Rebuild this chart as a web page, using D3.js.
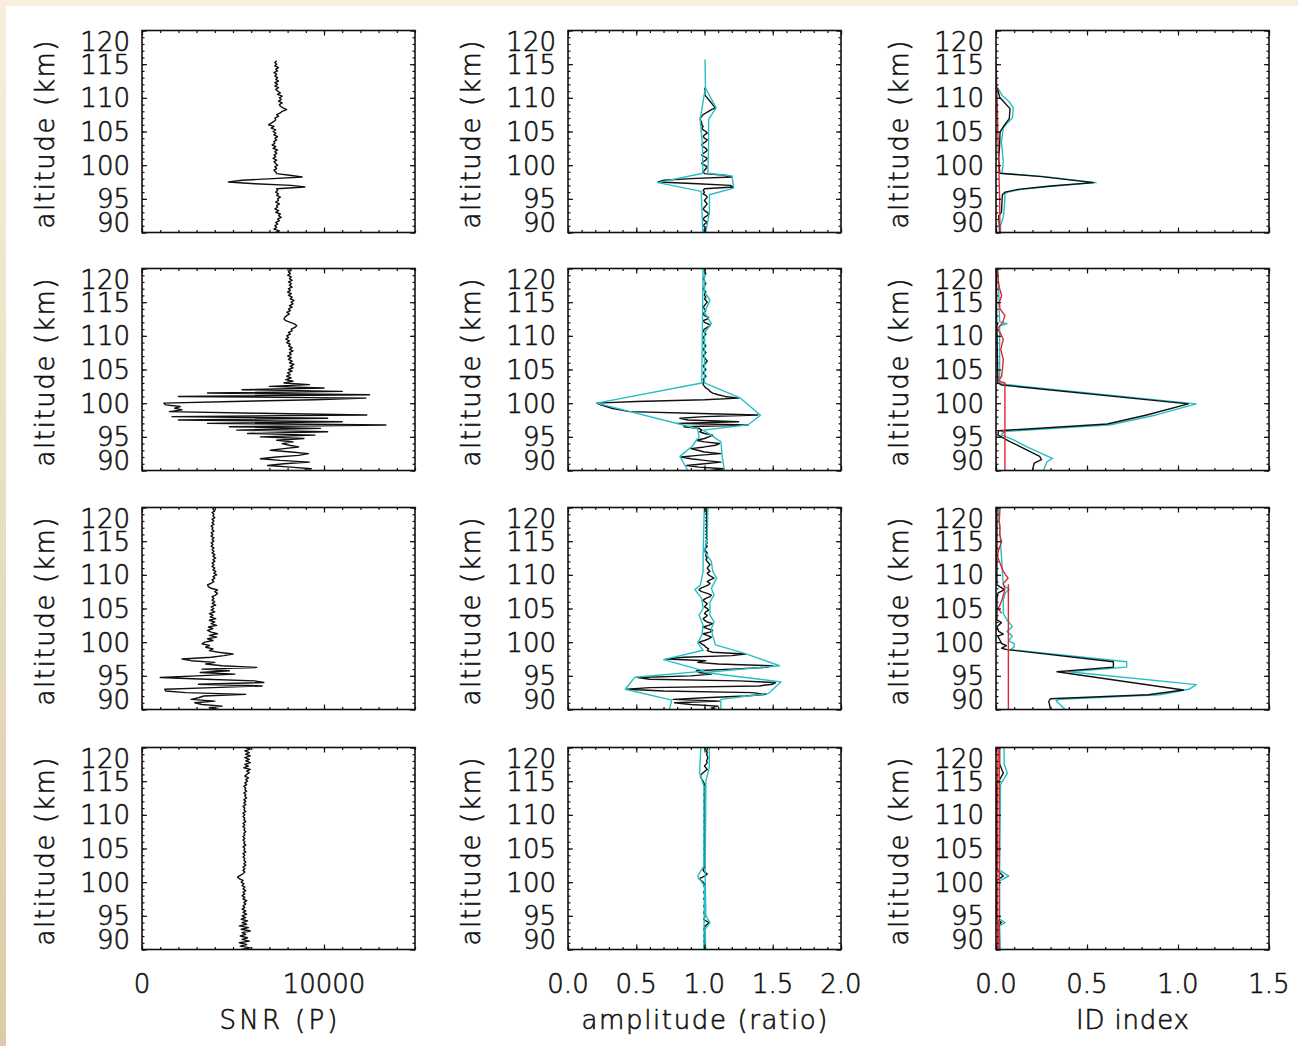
<!DOCTYPE html>
<html>
<head>
<meta charset="utf-8">
<script src="https://cdn.jsdelivr.net/npm/d3@7"></script>
<style>
	html, body { margin: 0; padding: 0; background: #ffffff; }
	svg text { font-family: "DejaVu Sans", sans-serif; font-weight: 300; fill: #111111; stroke: #111111; stroke-width: 0.6px; }
</style>
</head>
<body>
<div id="chart"></div>
<script>
// ---- axes / labels ----
const altTicks = [90, 95, 100, 105, 110, 115, 120];
const snrTicks = [0, 10000];
const snrTickLabels = ["0", "10000"];
const ampTicks = [0, 0.5, 1, 1.5, 2];
const ampTickLabels = ["0.0", "0.5", "1.0", "1.5", "2.0"];
const idTicks = [0, 0.5, 1, 1.5];
const idTickLabels = ["0.0", "0.5", "1.0", "1.5"];
const colTitles = ["SNR  (P)", "amplitude  (ratio)", "ID  index"];
const yTitle = "altitude  (km)";

// fine profiles: one value every 0.25 km, starting at 89 km
const fineStep = 0.25;
const fineStart = 89;

// ---- row 1 ----
const snr1 = [
	7350,7500,7300,7450,7350,7550,7250,7400,
	7300,7450,7350,7550,7450,7650,7500,7600,
	7350,7500,7300,7450,7400,7550,7350,7500,
	7450,7600,7400,7500,7350,7450,7400,8950,
	8200,6200,4750,5500,7200,8800,8100,7400,
	7350,7250,7400,7300,7450,7350,7250,7400,
	7200,7350,7250,7400,7300,7450,7200,7350,
	7150,7300,7250,7400,7300,7450,7250,7350,
	7200,7350,7100,7250,6950,7100,7250,7350,
	7300,7500,7400,7600,7700,7950,7750,7600,
	7550,7700,7500,7650,7550,7700,7450,7600,
	7450,7350,7500,7300,7450,7300,7500,7350,
	7450,7300,7400,7250,7450,7350,7500,7300,
	7400,7300,7400];
const amp1 = [
	1.0,1.01,0.99,1.0,1.01,0.995,1.0,1.01,
	0.99,1.0,1.02,1.0,0.99,1.0,1.02,1.03,
	1.02,1.0,0.99,1.0,1.01,1.02,1.01,1.0,
	1.01,1.02,1.01,0.99,1.0,0.99,1.0,1.21,
	1.19,0.95,0.66,0.7,0.9,1.2,1.15,1.0,
	0.99,1.0,1.01,1.02,1.0,0.98,0.99,1.01,
	1.02,1.0,0.98,0.99,1.01,1.02,1.01,0.99,
	0.98,0.99,1.01,1.02,1.0,0.99,1.0,1.02,
	1.01,0.99,0.98,0.99,0.98,0.98,0.975,0.97,
	0.97,0.98,0.99,1.01,1.03,1.05,1.08,1.07,
	1.06,1.05,1.04,1.03,1.02,1.01,1.0,1.005,
	1.0,1.005,1.0];
const ampHi1Alt = [89, 93, 95.6, 96.6, 98.4, 98.8, 103, 106.8, 108.5, 111.5, 115.7];
const ampHi1 =    [1.0, 1.036, 1.036, 1.214, 1.202, 1.024, 1.03, 1.03, 1.085, 1.007, 1.004];
const ampLo1Alt = [89, 96.1, 97.4, 98.8, 103, 106.8, 111.5];
const ampLo1 =    [0.99, 0.976, 0.659, 0.988, 0.985, 0.968, 1.007];
const id1Alt = [89, 90, 92.5, 93, 95.6, 96.0, 96.4, 96.9, 97.4, 98.3, 98.8, 99.0, 101, 103, 104.9, 105.7, 106.9, 108.4, 109.5, 110.1, 111.5];
const id1 =    [0.02, 0.02, 0.015, 0.03, 0.035, 0.05, 0.12, 0.3, 0.535, 0.25, 0.02, 0.02, 0.015, 0.02, 0.022, 0.04, 0.073, 0.077, 0.04, 0.02, 0.007];
const idC1Alt = [89, 91, 92.3, 93.5, 95.5, 95.7, 96.0, 96.4, 96.9, 97.4, 98.3, 98.8, 99.2, 100.5, 102, 103.5, 104.5, 105.5, 106.2, 107, 108.5, 109.5, 110.3, 111.5];
const idC1 =    [0.025, 0.025, 0.04, 0.045, 0.05, 0.045, 0.065, 0.14, 0.32, 0.55, 0.27, 0.03, 0.035, 0.04, 0.035, 0.03, 0.035, 0.04, 0.06, 0.09, 0.095, 0.07, 0.035, 0.01];
const idR1Alt = [89, 95, 100, 105, 110, 115.5];
const idR1 =    [0.022, 0.02, 0.015, 0.01, 0.006, 0.0];

// ---- row 2 ----
const snr2 = [
	8200,9000,8600,7600,8900,9300,8200,6900,
	7800,9200,7600,6500,7400,8600,9150,8200,
	7050,7800,8600,8100,7700,8300,7400,8900,
	6500,9500,5800,10200,5200,9800,4800,13400,
	3600,11000,2000,10200,1650,12350,6500,1500,
	2200,1800,2100,1300,1200,5000,9500,12300,
	2000,12500,3600,11000,5500,10000,7000,9200,
	7800,8300,7900,8200,7950,8150,8000,8250,
	8050,8300,8150,8350,8100,8250,8050,8200,
	8000,8200,8100,8300,8100,8250,8050,8150,
	7950,8100,7900,8050,7950,8150,8050,8250,
	8200,8400,8500,8400,8150,7900,7800,7850,
	7950,8100,7950,8150,8050,8250,8100,8300,
	8200,8350,8150,8250,8050,8200,8000,8150,
	8050,8250,8100,8200,8050,8250,8100,8200,
	8000,8150,8050,8200,8100,8250,8050,8150,
	8100];
const amp2 = [
	1.0,0.9,1.13,0.95,1.05,1.14,0.96,0.87,
	1.0,1.12,1.0,0.9,0.83,0.95,1.12,1.0,
	0.95,0.9,1.0,1.08,1.11,1.0,0.94,1.0,
	1.03,1.06,1.0,0.965,0.98,0.96,0.85,1.32,
	0.8,1.25,0.88,0.82,1.0,1.39,0.9,0.45,
	0.38,0.32,0.28,0.24,0.21,0.5,1.0,1.25,
	1.15,1.1,1.06,1.04,1.03,1.01,1.0,0.99,
	0.99,1.0,0.99,1.0,1.01,1.0,0.99,1.0,
	1.01,1.0,0.99,1.0,1.01,1.02,1.01,1.0,
	0.99,1.0,1.01,1.0,0.99,1.0,1.01,1.0,
	0.99,1.0,1.0,0.99,1.0,1.01,1.0,0.99,
	1.0,1.02,1.04,1.03,1.0,0.99,1.02,1.03,
	1.0,0.99,1.0,1.01,1.0,0.99,1.0,1.01,
	1.02,1.01,1.0,1.01,1.0,1.0,1.01,1.0,
	0.99,1.0,1.0,1.01,1.0,1.0,0.99,1.0,
	1.0,1.01,1.0,1.0,1.0,1.0,1.01,1.0,
	1.0];
const ampHi2Alt = [89, 90, 92, 94.3, 96.0, 96.8, 98.2, 100.8, 103, 110.5, 111.8, 113.5, 115.3, 116.5, 121];
const ampHi2 =    [1.15, 1.146, 1.13, 1.12, 0.99, 1.32, 1.41, 1.26, 1.0, 1.0, 1.05, 1.0, 1.04, 1.0, 1.0];
const ampLo2Alt = [89, 90, 92.1, 93.6, 95, 96.2, 100.0, 103, 121];
const ampLo2 =    [0.87, 0.878, 0.82, 0.91, 0.96, 0.95, 0.21, 0.98, 0.99];
const id2Alt = [89, 90, 91.1, 91.6, 92.1, 93.6, 94.3, 95.3, 95.9, 96.9, 98.25, 99.9, 102.7, 103, 111.5, 111.8, 112, 121];
const id2 =    [0.19, 0.2, 0.21, 0.25, 0.24, 0.13, 0.076, 0.01, 0.014, 0.612, 0.828, 1.057, 0.03, 0.01, 0.005, 0.01, 0.003, 0.003];
const idC2Alt = [89, 90, 91.3, 91.8, 93.5, 94.5, 95.3, 95.8, 96.8, 98.25, 99.9, 102.8, 103, 111.5, 111.8, 112.1, 121];
const idC2 =    [0.27, 0.26, 0.28, 0.31, 0.17, 0.1, 0.03, 0.05, 0.63, 0.88, 1.10, 0.04, 0.02, 0.02, 0.06, 0.02, 0.01];
const idR2Alt = [89, 95.7, 95.8, 95.9, 103, 103.3, 104, 105.5, 106.5, 108, 109.5, 110.5, 111, 112, 113, 114, 115, 116, 117, 118, 119, 120, 121];
const idR2 =    [0.049, 0.049, 0.03, 0.049, 0.049, 0.013, 0.031, 0.037, 0.04, 0.026, 0.04, 0.022, 0.007, 0.037, 0.049, 0.022, 0.018, 0.031, 0.02, 0.013, 0.01, 0.007, 0.005];

// ---- row 3 ----
const snr3 = [
	4100,3800,4300,3900,4200,3700,4400,3300,
	2900,4000,2700,3100,3400,5700,2400,1300,
	1250,3900,6600,3100,6700,6200,3500,1000,
	3000,5100,3200,4800,3300,6300,4400,3500,
	4000,2700,2200,3800,4500,5000,4200,3700,
	3900,3500,3700,3300,3450,3900,3600,4100,
	3700,4150,3800,3600,3900,3650,4100,3800,
	4000,3700,4050,3750,3900,3700,4000,3800,
	3950,3800,4050,3850,4000,3850,3950,3850,
	4050,4150,4000,4150,3800,3650,3600,3800,
	3950,3850,4000,3900,4100,3950,4050,3900,
	4000,3850,3950,3850,4000,3900,4050,3900,
	4000,3850,3950,3850,3950,3800,3900,3800,
	3950,3850,3950,3800,3900,3800,3950,3850,
	3900,3800,3950,3850,3950,3850,4000,3900,
	3950,3850,4000,3900,3950,3850,4000,3900,
	3950];
const amp3 = [
	1.08,1.05,1.1,1.02,1.08,1.05,1.1,0.9,
	0.78,1.11,0.77,1.0,1.3,1.45,1.35,0.7,
	0.43,0.6,1.4,1.5,1.52,1.25,0.6,0.51,
	0.9,1.05,0.96,0.94,1.2,1.45,1.5,1.1,
	0.95,1.01,0.72,0.85,1.2,1.3,1.06,1.02,
	1.03,1.01,1.0,0.98,0.96,1.0,1.03,1.05,
	1.02,0.99,1.04,1.06,1.02,0.99,1.03,1.06,
	1.02,1.0,0.99,1.01,1.02,1.0,1.01,1.03,
	1.02,1.0,1.01,1.02,1.0,0.99,1.01,1.04,
	1.05,1.02,0.98,0.96,0.97,1.0,1.03,1.04,
	1.02,1.04,1.07,1.05,1.03,1.02,1.04,1.03,
	1.02,1.03,1.04,1.03,1.02,1.01,1.02,1.01,
	1.01,1.02,1.01,1.0,1.01,1.02,1.01,1.02,
	1.01,1.02,1.01,1.02,1.01,1.02,1.01,1.02,
	1.01,1.02,1.01,1.02,1.01,1.02,1.01,1.02,
	1.01,1.02,1.01,1.02,1.01,1.02,1.01,1.02,
	1.01];
const ampHi3Alt = [89, 91.5, 92.4, 94.1, 95.5, 96.5, 98.3, 99.6, 101, 102, 103, 104, 106, 107, 108, 109.5, 110.5, 112, 113.5, 115.5, 121];
const ampHi3 =    [1.12, 1.12, 1.47, 1.56, 1.0, 1.55, 1.3, 1.08, 1.06, 1.05, 1.07, 1.04, 1.04, 1.07, 1.05, 1.09, 1.06, 1.05, 1.0, 1.02, 1.025];
const ampLo3Alt = [89, 91.4, 93.0, 94.8, 95.7, 97.4, 98.8, 99.9, 101, 102.5, 104, 105, 106.5, 107.8, 108.5, 110.5, 113, 121];
const ampLo3 =    [0.73, 0.76, 0.42, 0.49, 1.0, 0.70, 0.99, 0.95, 0.98, 0.99, 0.96, 0.99, 0.98, 0.93, 0.97, 0.99, 0.99, 1.0];
const id3Alt = [89, 90.0, 91.2, 91.6, 92.2, 92.9, 95.6, 96.3, 97.1, 98.9, 99.1, 99.5, 99.8, 100.9, 101.2, 101.6, 102.3, 102.9, 103.3, 104.3, 106.3, 107.3, 107.8, 108.5, 121];
const id3 =    [0.29, 0.30, 0.29, 0.30, 0.838, 1.03, 0.335, 0.645, 0.645, 0.06, 0.031, 0.057, 0.031, 0.01, 0.04, 0.015, 0.005, 0.03, 0.005, 0.005, 0.005, 0.01, 0.046, 0.005, 0.005];
const idC3Alt = [89, 90, 91.3, 91.5, 92.2, 93.0, 93.7, 95.6, 96.3, 97.1, 98.9, 99.3, 99.8, 100.2, 100.9, 101.6, 102.3, 103.3, 104.3, 106.3, 107.3, 107.8, 108.5, 121];
const idC3 =    [0.38, 0.38, 0.33, 0.35, 0.90, 1.06, 1.10, 0.40, 0.718, 0.718, 0.08, 0.1, 0.1, 0.07, 0.09, 0.06, 0.09, 0.06, 0.04, 0.04, 0.05, 0.073, 0.04, 0.01];
// threshold (straight) and noise level (wiggly) in red
const idR3Alt = [89, 108.6];
const idR3 =    [0.068, 0.068];
const idN3Alt = [104.3, 104.5, 105, 105.5, 106.5, 107.5, 108, 108.7, 109.5, 110.5, 112, 112.9, 114, 114.9, 116, 117, 118, 119, 120, 121];
const idN3 =    [0.031, 0.025, 0.011, 0.022, 0.035, 0.046, 0.048, 0.04, 0.066, 0.04, 0.018, 0.007, 0.018, 0.031, 0.02, 0.022, 0.018, 0.02, 0.022, 0.02];

// ---- row 4 ----
const snr4 = [
	5500,5900,5350,5850,5450,5950,5400,5750,
	5350,5900,5500,5800,5400,5700,5500,5950,
	5450,5850,5350,5750,5500,5800,5450,5700,
	5500,5750,5550,5700,5500,5650,5550,5700,
	5600,5750,5550,5650,5500,5650,5550,5700,
	5550,5650,5500,5600,5450,5550,5350,5250,
	5400,5550,5650,5550,5650,5550,5700,5600,
	5700,5600,5650,5550,5650,5550,5700,5600,
	5650,5550,5700,5600,5650,5550,5650,5550,
	5650,5600,5700,5600,5650,5550,5650,5550,
	5700,5600,5650,5550,5650,5550,5700,5600,
	5650,5550,5700,5600,5700,5600,5750,5650,
	5700,5600,5750,5650,5700,5600,5750,5650,
	5800,5700,5850,5650,5750,5900,5750,5950,
	5600,5850,5650,5950,5700,5900,5650,5950,
	5700,5900,5650,5950,5700,5900,5650,5900,
	5750];
const amp4 = [
	1.0,1.005,0.995,1.0,1.005,1.0,0.995,1.005,
	1.0,0.995,1.005,1.0,0.995,1.0,1.005,1.0,
	0.995,1.0,1.005,1.02,1.035,1.01,0.995,1.0,
	1.005,1.0,0.995,1.0,1.005,1.0,0.995,1.005,
	1.0,1.005,0.995,1.0,1.005,1.0,0.995,1.0,
	1.005,1.0,0.995,1.0,0.99,0.975,0.96,0.985,
	1.01,1.02,1.0,0.99,0.995,1.0,1.005,1.0,
	0.995,1.0,1.005,1.0,0.995,1.0,1.005,1.0,
	0.995,1.0,1.005,1.0,0.995,1.0,1.005,1.0,
	0.995,1.0,1.005,1.0,0.995,1.0,1.005,1.0,
	0.995,1.0,1.005,1.0,0.995,1.0,1.005,1.0,
	0.995,1.0,1.005,1.0,0.995,1.0,1.005,1.0,
	0.995,1.0,1.005,1.0,1.0,1.005,1.0,0.995,
	0.99,0.98,0.975,0.97,0.975,0.99,1.005,1.02,
	1.01,1.0,1.01,1.02,1.015,1.02,1.025,1.02,
	1.015,1.02,1.015,1.02,1.025,1.02,1.015,1.02,
	1.02];
const ampHi4Alt = [89, 93, 94, 95, 101, 114, 115, 117, 121];
const ampHi4 =    [1.01, 1.005, 1.04, 1.01, 1.005, 1.01, 1.01, 1.035, 1.036];
const ampLo4Alt = [89, 99.4, 100.9, 102.4, 114.2, 116.2, 121];
const ampLo4 =    [0.995, 1.0, 0.95, 0.995, 0.996, 0.964, 0.976];
const id4Alt = [89, 93.5, 94, 94.5, 100.3, 100.9, 101.8, 114.5, 116.2, 117.5, 121];
const id4 =    [0.01, 0.01, 0.03, 0.005, 0.005, 0.04, 0.005, 0.005, 0.04, 0.02, 0.02];
const idC4Alt = [89, 93.5, 94, 94.5, 100.2, 100.9, 101.8, 114.5, 116.2, 117.5, 121];
const idC4 =    [0.025, 0.02, 0.05, 0.02, 0.02, 0.07, 0.02, 0.025, 0.062, 0.045, 0.044];
const idR4Alt = [89, 121];
const idR4 =    [0.018, 0.018];
const idN4Alt = [89, 92, 95, 98, 100, 103, 105, 108, 110, 113, 115, 118, 121];
const idN4 =    [0.005, 0.009, 0.008, 0.004, 0.004, 0.008, 0.01, 0.006, 0.005, 0.009, 0.008, 0.011, 0.012];

// ---- layout ----
var cfg = {
	w: 1298,
	h: 1046,
	colLeft: [142, 568, 996],
	rowTop: [30.5, 268.5, 507.5, 747.5],
	boxW: 273,
	boxH: 202,
	fs: 26,
	black: "#111111",
	cyan: "#24bfc6",
	red: "#e3262b"
};

function profile(vals) {
	return vals.map(function(v, i) { return [fineStart + i * fineStep, v]; });
}
function pairs(alts, vals) {
	return alts.map(function(a, i) { return [a, vals[i]]; });
}

var columns = [
	{ domain: [0, 15000], ticks: snrTicks, labels: snrTickLabels, minor: d3.range(0, 15001, 1000), title: colTitles[0], titleLen: 118 },
	{ domain: [0, 2], ticks: ampTicks, labels: ampTickLabels, minor: d3.range(0, 21).map(function(i) { return i / 10; }), title: colTitles[1], titleLen: 246 },
	{ domain: [0, 1.5], ticks: idTicks, labels: idTickLabels, minor: d3.range(0, 16).map(function(i) { return i / 10; }), title: colTitles[2], titleLen: 113 }
];
var altMinor = d3.range(90, 121, 1);

var rows = [
	[
		[{ d: profile(snr1), c: cfg.black }],
		[{ d: profile(amp1), c: cfg.black }, { d: pairs(ampHi1Alt, ampHi1), c: cfg.cyan }, { d: pairs(ampLo1Alt, ampLo1), c: cfg.cyan }],
		[{ d: pairs(idC1Alt, idC1), c: cfg.cyan }, { d: pairs(id1Alt, id1), c: cfg.black }, { d: pairs(idR1Alt, idR1), c: cfg.red }]
	],
	[
		[{ d: profile(snr2), c: cfg.black }],
		[{ d: profile(amp2), c: cfg.black }, { d: pairs(ampHi2Alt, ampHi2), c: cfg.cyan }, { d: pairs(ampLo2Alt, ampLo2), c: cfg.cyan }],
		[{ d: pairs(idC2Alt, idC2), c: cfg.cyan }, { d: pairs(id2Alt, id2), c: cfg.black }, { d: pairs(idR2Alt, idR2), c: cfg.red }]
	],
	[
		[{ d: profile(snr3), c: cfg.black }],
		[{ d: profile(amp3), c: cfg.black }, { d: pairs(ampHi3Alt, ampHi3), c: cfg.cyan }, { d: pairs(ampLo3Alt, ampLo3), c: cfg.cyan }],
		[{ d: pairs(idC3Alt, idC3), c: cfg.cyan }, { d: pairs(id3Alt, id3), c: cfg.black }, { d: pairs(idN3Alt, idN3), c: cfg.red }, { d: pairs(idR3Alt, idR3), c: cfg.red }]
	],
	[
		[{ d: profile(snr4), c: cfg.black }],
		[{ d: profile(amp4), c: cfg.black }, { d: pairs(ampHi4Alt, ampHi4), c: cfg.cyan }, { d: pairs(ampLo4Alt, ampLo4), c: cfg.cyan }],
		[{ d: pairs(idC4Alt, idC4), c: cfg.cyan }, { d: pairs(id4Alt, id4), c: cfg.black }, { d: pairs(idN4Alt, idN4), c: cfg.red }, { d: pairs(idR4Alt, idR4), c: cfg.red }]
	]
];

var svg = d3.select("#chart")
	.append("svg")
	.attr("width", cfg.w)
	.attr("height", cfg.h);

// cream frame along the top and left edges
var defs = svg.append("defs");
var grad = defs.append("linearGradient").attr("id", "leftEdge")
	.attr("x1", 0).attr("y1", 0).attr("x2", 0).attr("y2", 1);
grad.append("stop").attr("offset", "0%").attr("stop-color", "#f8efda");
grad.append("stop").attr("offset", "100%").attr("stop-color", "#d9cca8");
svg.append("rect").attr("x", 0).attr("y", 0).attr("width", cfg.w).attr("height", 6).attr("fill", "#f8efda");
svg.append("rect").attr("x", 0).attr("y", 0).attr("width", 6).attr("height", cfg.h).attr("fill", "url(#leftEdge)");

var y = d3.scaleLinear().domain([90, 120]).range([cfg.boxH, 0]);

function tickAxis(g, axis, values, size, tx, ty) {
	g.append("g")
		.attr("transform", "translate(" + tx + "," + ty + ")")
		.call(axis.tickValues(values).tickSize(-size).tickFormat(""))
		.call(function(a) { a.select(".domain").remove(); })
		.selectAll("line")
		.attr("stroke", cfg.black)
		.attr("stroke-width", 1.2);
}

rows.forEach(function(row, r) {
	row.forEach(function(series, c) {
		var col = columns[c];
		var x = d3.scaleLinear().domain(col.domain).range([0, cfg.boxW]);
		var g = svg.append("g")
			.attr("transform", "translate(" + cfg.colLeft[c] + "," + cfg.rowTop[r] + ")");

		var clipId = "clip-" + r + "-" + c;
		defs.append("clipPath").attr("id", clipId)
			.append("rect").attr("width", cfg.boxW).attr("height", cfg.boxH);

		var line = d3.line()
			.x(function(d) { return x(d[1]); })
			.y(function(d) { return y(d[0]); });

		var plot = g.append("g").attr("clip-path", "url(#" + clipId + ")");
		series.forEach(function(s) {
			plot.append("path")
				.datum(s.d)
				.attr("fill", "none")
				.attr("stroke", s.c)
				.attr("stroke-width", 1.4)
				.attr("stroke-linejoin", "round")
				.attr("d", line);
		});

		// ticks on all four sides, pointing inward
		tickAxis(g, d3.axisLeft(y), altMinor, 2.5, 0, 0);
		tickAxis(g, d3.axisLeft(y), altTicks, 5, 0, 0);
		tickAxis(g, d3.axisRight(y), altMinor, 2.5, cfg.boxW, 0);
		tickAxis(g, d3.axisRight(y), altTicks, 5, cfg.boxW, 0);
		tickAxis(g, d3.axisTop(x), col.minor, 2.5, 0, 0);
		tickAxis(g, d3.axisTop(x), col.ticks, 5, 0, 0);
		tickAxis(g, d3.axisBottom(x), col.minor, 2.5, 0, cfg.boxH);
		tickAxis(g, d3.axisBottom(x), col.ticks, 5, 0, cfg.boxH);

		g.append("rect")
			.attr("width", cfg.boxW)
			.attr("height", cfg.boxH)
			.attr("fill", "none")
			.attr("stroke", cfg.black)
			.attr("stroke-width", 1.6);

		// altitude labels (end labels kept inside the box height)
		g.selectAll(".ylab")
			.data(altTicks)
			.enter().append("text")
			.attr("class", "ylab")
			.attr("x", -12)
			.attr("y", function(d) { return Math.max(11, Math.min(cfg.boxH - 10, y(d))); })
			.attr("dy", "0.36em")
			.attr("text-anchor", "end")
			.attr("font-size", cfg.fs)
			.text(function(d) { return d; });

		g.append("text")
			.attr("transform", "translate(-88," + (cfg.boxH / 2 + 3) + ") rotate(-90)")
			.attr("text-anchor", "middle")
			.attr("font-size", cfg.fs)
			.attr("textLength", 188)
			.attr("lengthAdjust", "spacing")
			.text(yTitle);

		if (r === rows.length - 1) {
			g.selectAll(".xlab")
				.data(col.ticks)
				.enter().append("text")
				.attr("class", "xlab")
				.attr("x", function(d) { return x(d); })
				.attr("y", cfg.boxH + 34)
				.attr("dy", "0.36em")
				.attr("text-anchor", "middle")
				.attr("font-size", cfg.fs)
				.text(function(d, i) { return col.labels[i]; });

			g.append("text")
				.attr("x", cfg.boxW / 2)
				.attr("y", cfg.boxH + 70)
				.attr("dy", "0.36em")
				.attr("text-anchor", "middle")
				.attr("font-size", cfg.fs)
				.attr("textLength", col.titleLen)
				.attr("lengthAdjust", "spacing")
				.text(col.title);
		}
	});
});
</script>
</body>
</html>
